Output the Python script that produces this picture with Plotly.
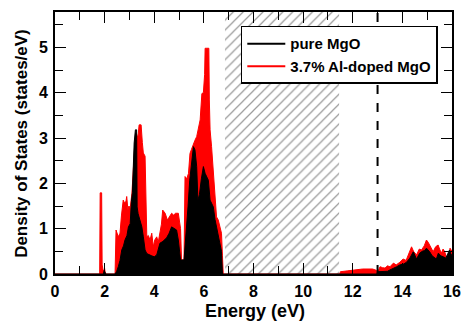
import plotly.graph_objects as go

# Al-doped MgO (red)
energy_doped = [0, 1.80, 1.82, 1.88, 1.90, 1.95, 2.00, 2.03, 2.42, 2.46, 2.55, 2.62, 2.68, 2.75, 2.80,
                2.86, 2.89, 2.94, 2.98, 3.03, 3.10, 3.16, 3.22, 3.28, 3.34, 3.39, 3.47, 3.52, 3.56, 3.63,
                3.67, 3.70, 3.76, 3.83, 3.90, 3.96, 4.02, 4.10, 4.16, 4.23, 4.29, 4.34, 4.40, 4.44, 4.53,
                4.60, 4.70, 4.78, 4.86, 4.97, 5.00, 5.06, 5.10, 5.20, 5.24, 5.31, 5.38, 5.44, 5.50, 5.58,
                5.64, 5.71, 5.78, 5.85, 5.92, 5.98, 6.03, 6.05, 6.12, 6.20, 6.22, 6.25, 6.31, 6.38, 6.45,
                6.51, 6.58, 6.65, 6.71, 6.75, 6.78,
                11.48, 11.50, 11.8, 12.1, 12.4, 12.8, 12.95, 13.0, 13.05, 13.1, 13.2, 13.3, 13.4, 13.5, 13.64,
                13.75, 13.9, 14.03, 14.15, 14.3, 14.37, 14.45, 14.57, 14.68, 14.77, 14.88, 14.97, 15.04, 15.1,
                15.17, 15.24, 15.34, 15.44, 15.5, 15.57, 15.64, 15.71, 15.78, 15.84, 15.88, 15.92, 16.0]
dos_doped = [0, 0, 1.79, 1.79, 0.2, 0.05, 0.12, 0, 0, 0.97, 0.82, 0.9, 1.3, 1.63, 1.57,
             1.6, 1.71, 1.41, 1.5, 1.45, 1.78, 2.52, 2.9, 3.1, 3.0, 3.29, 3.29, 2.9, 2.67, 2.6,
             1.78, 0.82, 0.85, 0.75, 0.9, 0.6, 0.75, 0.82, 0.7, 0.9, 1.1, 1.41, 1.36, 1.34, 1.19,
             1.25, 1.34, 1.3, 1.34, 1.34, 1.19, 1.0, 0.31, 0.31, 2.15, 2.1, 2.22, 2.66, 2.75, 2.88,
             2.95, 3.03, 3.25, 3.4, 3.98, 4.0, 4.4, 4.98, 4.98, 4.98, 3.84, 3.18, 2.81, 2.22, 1.63,
             1.26, 1.19, 1.04, 0.9, 0.4, 0,
             0, 0.05, 0.07, 0.09, 0.11, 0.11, 0.08, 0.03, 0.1, 0.16, 0.14, 0.13, 0.18, 0.16, 0.24,
             0.2, 0.26, 0.33, 0.3, 0.49, 0.6, 0.5, 0.42, 0.55, 0.53, 0.62, 0.75, 0.7, 0.64,
             0.55, 0.49, 0.6, 0.64, 0.55, 0.46, 0.55, 0.49, 0.35, 0.2, 0.4, 0.57, 0.5]

# pure MgO (black)
energy_pure = [0, 1.95, 1.98, 2.02, 2.05, 2.42, 2.48, 2.55, 2.62, 2.69, 2.76, 2.82, 2.90, 2.96, 3.03,
               3.08, 3.12, 3.19, 3.24, 3.29, 3.31, 3.35, 3.42, 3.50, 3.56, 3.63, 3.70, 3.80, 3.90, 4.00,
               4.10, 4.23, 4.35, 4.50, 4.60, 4.70, 4.80, 4.90, 4.97, 5.02, 5.06, 5.20, 5.27, 5.36, 5.43,
               5.50, 5.58, 5.64, 5.71, 5.76, 5.82, 5.90, 5.98, 6.05, 6.12, 6.18, 6.25, 6.32, 6.38, 6.45,
               6.51, 6.58, 6.65, 6.71, 6.75,
               12.98, 13.0, 13.2, 13.4, 13.5, 13.65, 13.77, 13.9, 14.05, 14.17, 14.3, 14.44, 14.5, 14.57,
               14.64, 14.7, 14.8, 14.9, 14.97, 15.05, 15.1, 15.2, 15.3, 15.37, 15.45, 15.55, 15.65, 15.75,
               15.84, 15.9, 15.95, 16.0]
dos_pure = [0, 0, 0.08, 0.05, 0, 0, 0.05, 0.16, 0.3, 0.53, 0.62, 0.75, 0.85, 1.04, 1.11,
            1.6, 1.8, 2.89, 3.18, 3.18, 1.48, 1.33, 1.2, 1.04, 0.82, 0.53, 0.45, 0.42, 0.4, 0.38,
            0.42, 0.68, 0.72, 0.8, 0.9, 1.04, 1.0, 0.97, 0.75, 0.5, 0.31, 0.31, 0.75, 1.48, 2.07,
            2.37, 2.81, 2.74, 2.37, 1.63, 1.75, 2.1, 2.37, 2.22, 2.15, 2.07, 1.63, 1.55, 1.48, 1.2,
            1.04, 0.85, 0.6, 0.5, 0,
            0, 0.05, 0.05, 0.06, 0.09, 0.12, 0.16, 0.2, 0.22, 0.26, 0.35, 0.49, 0.4, 0.33,
            0.4, 0.46, 0.5, 0.52, 0.57, 0.52, 0.49, 0.4, 0.35, 0.33, 0.46, 0.4, 0.38, 0.35,
            0.46, 0.53, 0.45, 0.4]

gap_region = [6.85, 11.45]
fermi_energy = 13.0
x_range = [0, 16]
y_range = [0, 5.78]
x_ticks = [0, 2, 4, 6, 8, 10, 12, 14, 16]
y_ticks = [0, 1, 2, 3, 4, 5]

font_family = "Liberation Sans, Arial, sans-serif"

fig = go.Figure()

# hatched band-gap region
fig.add_trace(go.Scatter(
    x=[gap_region[0], gap_region[1], gap_region[1], gap_region[0], gap_region[0]],
    y=[y_range[0], y_range[0], y_range[1], y_range[1], y_range[0]],
    mode="none", fill="toself", fillcolor="white",
    fillpattern=dict(shape="/", fgcolor="#3a3a3a", bgcolor="white", size=7, solidity=0.18),
    showlegend=False, hoverinfo="skip"))

fig.add_trace(go.Scatter(x=energy_doped, y=dos_doped, mode="lines",
                         line=dict(color="#ff0000", width=1), fill="tozeroy", fillcolor="#ff0000",
                         showlegend=False))
fig.add_trace(go.Scatter(x=energy_pure, y=dos_pure, mode="lines",
                         line=dict(color="#000000", width=1), fill="tozeroy", fillcolor="#000000",
                         showlegend=False))

# legend entries
fig.add_trace(go.Scatter(x=[None], y=[None], mode="lines", name="pure MgO",
                         line=dict(color="#000000", width=2)))
fig.add_trace(go.Scatter(x=[None], y=[None], mode="lines", name="3.7% Al-doped MgO",
                         line=dict(color="#ff0000", width=2)))

fig.add_shape(type="line", x0=fermi_energy, x1=fermi_energy, y0=y_range[0], y1=y_range[1],
              xref="x", yref="y", line=dict(color="black", width=2, dash="dash"))

axis_common = dict(showgrid=False, zeroline=False, showline=True, linecolor="black", linewidth=2,
                   mirror="ticks", ticks="inside", ticklen=11, tickwidth=1, tickcolor="black",
                   automargin=False, ticklabelstandoff=2,
                   tickfont=dict(family=font_family, size=16, color="black", weight="bold"))

fig.update_xaxes(range=x_range, tickvals=x_ticks, **axis_common,
                 minor=dict(dtick=1, ticks="inside", ticklen=8, tickcolor="black", tickwidth=1))
fig.update_yaxes(range=y_range, tickvals=y_ticks, **axis_common,
                 minor=dict(dtick=0.5, ticks="inside", ticklen=8, tickcolor="black", tickwidth=1))

fig.add_annotation(text="Energy (eV)", xref="paper", yref="paper", x=0.505, y=-0.142,
                   xanchor="center", yanchor="middle", showarrow=False,
                   font=dict(family=font_family, size=18, color="black", weight="bold"))
fig.add_annotation(text="Density of States (states/eV)", xref="paper", yref="paper",
                   x=-0.086, y=0.5, textangle=-90, xanchor="center", yanchor="middle", showarrow=False,
                   font=dict(family=font_family, size=17, color="black", weight="bold"))

fig.update_layout(
    width=462, height=325,
    margin=dict(l=55, r=10, t=12, b=51, autoexpand=False),
    plot_bgcolor="white", paper_bgcolor="white",
    legend=dict(x=0.468, y=0.947, xanchor="left", yanchor="top",
                bordercolor="black", borderwidth=1.5, bgcolor="white",
                font=dict(family=font_family, size=15, color="black", weight="bold"),
                tracegroupgap=0, itemwidth=38),
)

fig.write_html("out.html")
